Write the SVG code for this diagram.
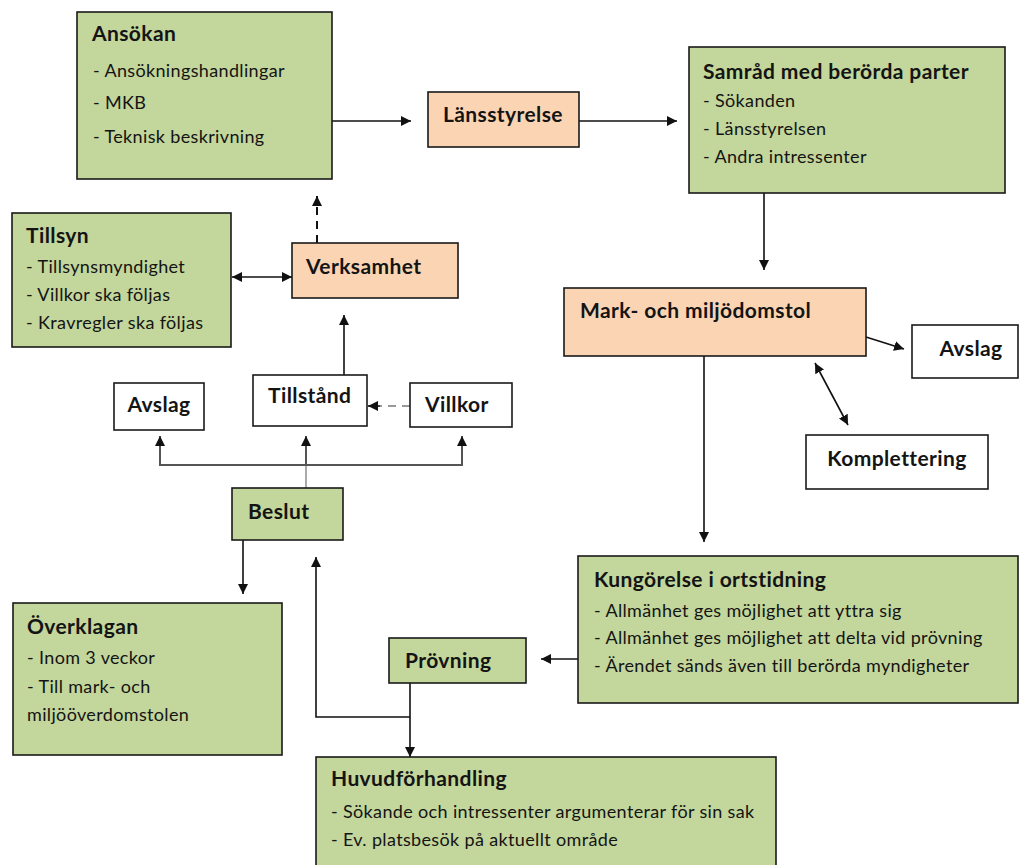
<svg xmlns="http://www.w3.org/2000/svg" width="1019" height="865" viewBox="0 0 1019 865">
<defs>
<style>
.g{fill:#C3D69B;stroke:#1a1a1a;stroke-width:1.6}
.o{fill:#FBD4B4;stroke:#1a1a1a;stroke-width:1.6}
.w{fill:#ffffff;stroke:#1a1a1a;stroke-width:1.6}
.t{font-family:Lato,"Liberation Sans",sans-serif;font-weight:bold;font-size:21px;letter-spacing:0.4px;fill:#141414}
.i{font-family:Lato,"Liberation Sans",sans-serif;font-size:18px;letter-spacing:0.35px;fill:#141414}
.c{fill:none;stroke:#111;stroke-width:1.6}
.gd{fill:none;stroke:#555;stroke-width:2}
.gl{fill:none;stroke:#aaa;stroke-width:2}
.ds{fill:none;stroke:#111;stroke-width:2;stroke-dasharray:8,6}
.dg{fill:none;stroke:#999;stroke-width:2;stroke-dasharray:8,6}
</style>
<marker id="a" viewBox="0 0 10 10" refX="10" refY="5" markerWidth="10" markerHeight="10" markerUnits="userSpaceOnUse" orient="auto-start-reverse">
<path d="M0,0 L10,5 L0,10 z" fill="#111"/>
</marker>
</defs>
<rect width="1019" height="865" fill="#ffffff"/>

<g id="connectors">
<line class="c" x1="332" y1="121" x2="411" y2="121" marker-end="url(#a)"/>
<line class="c" x1="579" y1="121" x2="677" y2="121" marker-end="url(#a)"/>
<line class="c" x1="764" y1="193" x2="764" y2="270" marker-end="url(#a)"/>
<line class="c" x1="866" y1="337" x2="904" y2="349" marker-end="url(#a)"/>
<line class="c" x1="815" y1="363" x2="848" y2="425" marker-start="url(#a)" marker-end="url(#a)"/>
<line class="c" x1="704" y1="356" x2="704" y2="542" marker-end="url(#a)"/>
<line class="c" x1="578" y1="659" x2="541" y2="659" marker-end="url(#a)"/>
<line class="c" x1="410" y1="683" x2="410" y2="757" marker-end="url(#a)"/>
<polyline class="c" points="410,717 316,717 316,557" marker-end="url(#a)"/>
<line class="c" x1="243" y1="540" x2="243" y2="594" marker-end="url(#a)"/>
<line class="gl" x1="306" y1="488" x2="306" y2="465"/>
<line class="gd" x1="306" y1="465" x2="306" y2="436" marker-end="url(#a)"/>
<polyline class="gd" points="160,436 160,465 462,465 462,436"/>
<line class="gd" x1="160" y1="445" x2="160" y2="436" marker-end="url(#a)"/>
<line class="gd" x1="462" y1="445" x2="462" y2="436" marker-end="url(#a)"/>
<line class="dg" x1="410" y1="406" x2="380" y2="406"/>
<line class="c" x1="380" y1="406" x2="368" y2="406" marker-end="url(#a)"/>
<line class="c" x1="344" y1="375" x2="344" y2="315" marker-end="url(#a)"/>
<line class="ds" x1="317" y1="243" x2="317" y2="196" marker-end="url(#a)"/>
<line class="c" x1="232" y1="277" x2="292" y2="277" marker-start="url(#a)" marker-end="url(#a)"/>
</g>

<g id="ansokan">
<rect class="g" x="77" y="12" width="255" height="167"/>
<text class="t" x="92" y="41">Ansökan</text>
<text class="i" x="93" y="77">- Ansökningshandlingar</text>
<text class="i" x="93" y="109">- MKB</text>
<text class="i" x="93" y="143">- Teknisk beskrivning</text>
</g>

<g id="lansstyrelse">
<rect class="o" x="428" y="92" width="151" height="55"/>
<text class="t" x="443" y="122">Länsstyrelse</text>
</g>

<g id="samrad">
<rect class="g" x="689" y="47" width="316" height="146"/>
<text class="t" x="703" y="79">Samråd med berörda parter</text>
<text class="i" x="703" y="107">- Sökanden</text>
<text class="i" x="703" y="135">- Länsstyrelsen</text>
<text class="i" x="703" y="163">- Andra intressenter</text>
</g>

<g id="tillsyn">
<rect class="g" x="12" y="213" width="219" height="134"/>
<text class="t" x="26" y="243">Tillsyn</text>
<text class="i" x="26" y="273">- Tillsynsmyndighet</text>
<text class="i" x="26" y="301">- Villkor ska följas</text>
<text class="i" x="26" y="329">- Kravregler ska följas</text>
</g>

<g id="verksamhet">
<rect class="o" x="292" y="243" width="166" height="55"/>
<text class="t" x="306" y="274">Verksamhet</text>
</g>

<g id="mark">
<rect class="o" x="564" y="288" width="302" height="68"/>
<text class="t" x="580" y="318">Mark- och miljödomstol</text>
</g>

<g id="avslag2">
<rect class="w" x="912" y="325" width="106" height="53"/>
<text class="t" x="971" y="356" text-anchor="middle">Avslag</text>
</g>

<g id="komplettering">
<rect class="w" x="806" y="435" width="182" height="54"/>
<text class="t" x="897" y="466" text-anchor="middle">Komplettering</text>
</g>

<g id="avslag1">
<rect class="w" x="114" y="383" width="90" height="47"/>
<text class="t" x="159" y="412" text-anchor="middle">Avslag</text>
</g>

<g id="tillstand">
<rect class="w" x="253" y="375" width="114" height="51"/>
<text class="t" x="268" y="403">Tillstånd</text>
</g>

<g id="villkor">
<rect class="w" x="410" y="383" width="102" height="44"/>
<text class="t" x="425" y="412">Villkor</text>
</g>

<g id="beslut">
<rect class="g" x="232" y="488" width="111" height="52"/>
<text class="t" x="248" y="519">Beslut</text>
</g>

<g id="overklagan">
<rect class="g" x="13" y="603" width="269" height="152"/>
<text class="t" x="27" y="634">Överklagan</text>
<text class="i" x="27" y="664">- Inom 3 veckor</text>
<text class="i" x="27" y="693">- Till mark- och</text>
<text class="i" x="27" y="721">miljööverdomstolen</text>
</g>

<g id="provning">
<rect class="g" x="389" y="638" width="137" height="45"/>
<text class="t" x="405" y="668">Prövning</text>
</g>

<g id="kungorelse">
<rect class="g" x="578" y="556" width="440" height="147"/>
<text class="t" x="594" y="587">Kungörelse i ortstidning</text>
<text class="i" x="594" y="617">- Allmänhet ges möjlighet att yttra sig</text>
<text class="i" x="594" y="644">- Allmänhet ges möjlighet att delta vid prövning</text>
<text class="i" x="594" y="672">- Ärendet sänds även till berörda myndigheter</text>
</g>

<g id="huvudforhandling">
<rect class="g" x="316" y="757" width="460" height="120"/>
<text class="t" x="331" y="786">Huvudförhandling</text>
<text class="i" x="331" y="818">- Sökande och intressenter argumenterar för sin sak</text>
<text class="i" x="331" y="846">- Ev. platsbesök på aktuellt område</text>
</g>
</svg>
